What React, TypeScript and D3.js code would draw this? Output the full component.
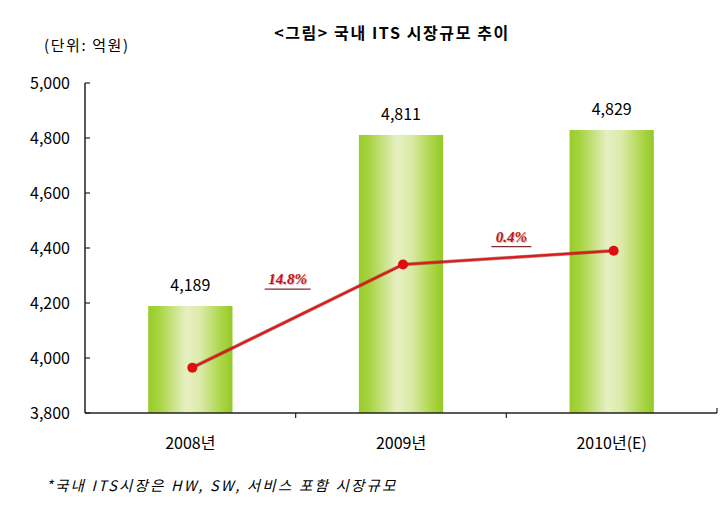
import React from 'react';
import * as d3 from 'd3';

// chart values
const years = ['2008년', '2009년', '2010년(E)'];
const marketSize = [4189, 4811, 4829];
const trendValues = [3965, 4340, 4390]; // red line, drawn on the left scale (no axis of its own)
const growthLabels = ['14.8%', '0.4%'];
const yTicks = [3800, 4000, 4200, 4400, 4600, 4800, 5000];

const title = '<그림> 국내 ITS 시장규모 추이';
const unitLabel = '(단위: 억원)';
const footnote = '*국내 ITS시장은 HW, SW, 서비스 포함 시장규모';

const W = 721;
const H = 511;
const margin = { top: 83, right: 4, bottom: 98, left: 85 };
const font = '"Noto Sans CJK KR", "Noto Sans", sans-serif';

const App = () => {
  const x = d3.scaleBand<string>()
    .domain(years)
    .range([margin.left, W - margin.right])
    .paddingInner(0.6)
    .paddingOuter(0.3);

  const step = x.step();
  const y = d3.scaleLinear()
    .domain([3800, 5000])
    .range([H - margin.bottom, margin.top]);

  const cx = (i: number) => (x(years[i]) as number) + x.bandwidth() / 2;
  const axisY = y(3800);
  const x0 = margin.left;
  const x1 = W - margin.right;

  const line = d3.line<number>()
    .x((_, i) => cx(i) + 2)
    .y(d => y(d));

  // boundaries between categories
  const boundaries = years.slice(1).map((_, i) => x0 + step * (i + 1) * ((x1 - x0) / (step * years.length)));

  return (
    <svg width={W} height={H} style={{ position: 'absolute', left: 0, top: 0, background: '#fff' }}>
      <defs>
        <linearGradient id="barGrad" x1="0" x2="1" y1="0" y2="0">
          <stop offset="0%" stopColor="#98cc2c" />
          <stop offset="12%" stopColor="#a6d33f" />
          <stop offset="45%" stopColor="#e7efc2" />
          <stop offset="62%" stopColor="#dbeaa8" />
          <stop offset="88%" stopColor="#a9d443" />
          <stop offset="100%" stopColor="#94c928" />
        </linearGradient>
      </defs>

      {/* title + unit */}
      <text x={392} y={39} textAnchor="middle" fontFamily={font} fontSize={16} fontWeight="bold" letterSpacing={1.6}>{title}</text>
      <text x={44} y={51} fontFamily={font} fontSize={15} letterSpacing={1.6}>{unitLabel}</text>

      {/* bars */}
      {marketSize.map((v, i) => (
        <rect key={years[i]} x={x(years[i])} y={y(v)} width={x.bandwidth()} height={axisY - y(v)} fill="url(#barGrad)" />
      ))}

      {/* value labels */}
      {marketSize.map((v, i) => (
        <text key={'v' + i} x={cx(i)} y={y(v) - 15} textAnchor="middle" fontFamily={font} fontSize={16}>
          {d3.format(',')(v)}
        </text>
      ))}

      {/* y axis */}
      <line x1={x0} x2={x0} y1={y(5000)} y2={axisY} stroke="#222" strokeWidth={1.5} />
      {yTicks.map(t => (
        <g key={t}>
          <line x1={x0} x2={x0 + 5} y1={y(t)} y2={y(t)} stroke="#222" strokeWidth={1.2} />
          <text x={70} y={y(t)} dy="0.35em" textAnchor="end" fontFamily={font} fontSize={16}>{d3.format(',')(t)}</text>
        </g>
      ))}

      {/* x axis */}
      <line x1={x0} x2={x1} y1={axisY} y2={axisY} stroke="#222" strokeWidth={1.5} />
      {boundaries.map((b, i) => (
        <line key={'b' + i} x1={b} x2={b} y1={axisY} y2={axisY + 5} stroke="#222" strokeWidth={1.2} />
      ))}
      <line x1={x1} x2={x1} y1={axisY} y2={axisY - 5} stroke="#222" strokeWidth={1.2} />
      {years.map((yr, i) => (
        <text key={yr} x={cx(i)} y={axisY + 36} textAnchor="middle" fontFamily={font} fontSize={16}>{yr}</text>
      ))}

      {/* trend line */}
      <path d={line(trendValues) || ''} fill="none" stroke="#7a1010" strokeWidth={3.5} opacity={0.5} />
      <path d={line(trendValues) || ''} fill="none" stroke="#e01818" strokeWidth={2.2} />
      {trendValues.map((v, i) => (
        <circle key={'p' + i} cx={cx(i) + 2} cy={y(v)} r={5} fill="#e00f0f" />
      ))}

      {/* growth rate labels between bars */}
      {growthLabels.map((g, i) => {
        const gx = (cx(i) + cx(i + 1)) / 2 - 8 + i * 13;
        const gy = (y(trendValues[i]) + y(trendValues[i + 1])) / 2 - (i === 0 ? 32 : 16);
        return (
          <g key={g}>
            <text x={gx + 1} y={gy + 1} textAnchor="middle" fontFamily='"Liberation Serif", serif' fontStyle="italic" fontWeight="bold" fontSize={15} fill="#f0b0b0">{g}</text>
            <text x={gx} y={gy} textAnchor="middle" fontFamily='"Liberation Serif", serif' fontStyle="italic" fontWeight="bold" fontSize={15} fill="#b8161c">{g}</text>
            <line x1={gx - 23 + i * 3} x2={gx + 23 - i * 3} y1={gy + 5} y2={gy + 5} stroke="#7a3030" strokeWidth={1.2} />
          </g>
        );
      })}

      {/* footnote */}
      <text x={46} y={491} fontFamily={font} fontStyle="italic" fontSize={14.5} letterSpacing={2.2}>{footnote}</text>
    </svg>
  );
};

export default App;
